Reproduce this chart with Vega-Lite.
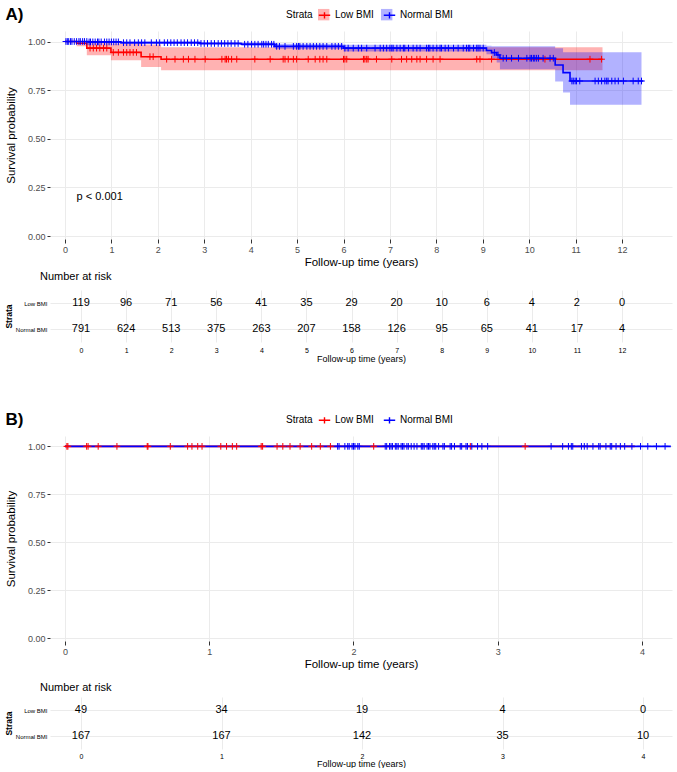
{
 "$schema": "https://vega.github.io/schema/vega-lite/v6.json",
 "background": "white",
 "padding": {"left": 4, "right": 0, "top": 5, "bottom": 0},
 "config": {
  "font": "Liberation Sans",
  "view": {"stroke": null},
  "axis": {"domain": false, "gridColor": "#ebebeb", "gridWidth": 1, "labelColor": "#4d4d4d", "tickColor": "#333333", "titleColor": "#000000", "titleFontWeight": "normal"},
  "title": {"color": "#000000"},
  "legend": {"labelColor": "#000000", "titleColor": "#000000"}
 },
 "datasets": {
  "bandA": [
   {"time": 0, "lower": 1.0, "upper": 1.0, "strata": "Low BMI"},
   {"time": 0.25, "lower": 0.975, "upper": 1.0, "strata": "Low BMI"},
   {"time": 0.47, "lower": 0.93, "upper": 1.0, "strata": "Low BMI"},
   {"time": 0.99, "lower": 0.904, "upper": 0.99, "strata": "Low BMI"},
   {"time": 1.64, "lower": 0.869, "upper": 0.985, "strata": "Low BMI"},
   {"time": 2.07, "lower": 0.852, "upper": 0.97, "strata": "Low BMI"},
   {"time": 11.58, "lower": 0.852, "upper": 0.97, "strata": "Low BMI"},
   {"time": 0, "lower": 1.0, "upper": 1.0, "strata": "Normal BMI"},
   {"time": 0.5, "lower": 0.994, "upper": 1.0, "strata": "Normal BMI"},
   {"time": 1.2, "lower": 0.988, "upper": 1.0, "strata": "Normal BMI"},
   {"time": 2.9, "lower": 0.982, "upper": 0.998, "strata": "Normal BMI"},
   {"time": 3.8, "lower": 0.977, "upper": 0.995, "strata": "Normal BMI"},
   {"time": 4.52, "lower": 0.963, "upper": 0.988, "strata": "Normal BMI"},
   {"time": 6.0, "lower": 0.949, "upper": 0.983, "strata": "Normal BMI"},
   {"time": 9.08, "lower": 0.935, "upper": 0.978, "strata": "Normal BMI"},
   {"time": 9.19, "lower": 0.915, "upper": 0.975, "strata": "Normal BMI"},
   {"time": 9.3, "lower": 0.892, "upper": 0.975, "strata": "Normal BMI"},
   {"time": 9.37, "lower": 0.858, "upper": 0.975, "strata": "Normal BMI"},
   {"time": 10.56, "lower": 0.795, "upper": 0.965, "strata": "Normal BMI"},
   {"time": 10.73, "lower": 0.738, "upper": 0.945, "strata": "Normal BMI"},
   {"time": 10.88, "lower": 0.675, "upper": 0.945, "strata": "Normal BMI"},
   {"time": 12.42, "lower": 0.675, "upper": 0.945, "strata": "Normal BMI"}
  ],
  "kmA": [
   {"time": 0, "surv": 1.0, "strata": "Low BMI"},
   {"time": 0.25, "surv": 0.991, "strata": "Low BMI"},
   {"time": 0.47, "surv": 0.966, "strata": "Low BMI"},
   {"time": 0.99, "surv": 0.944, "strata": "Low BMI"},
   {"time": 1.64, "surv": 0.922, "strata": "Low BMI"},
   {"time": 2.07, "surv": 0.909, "strata": "Low BMI"},
   {"time": 11.58, "surv": 0.909, "strata": "Low BMI"},
   {"time": 0, "surv": 1.0, "strata": "Normal BMI"},
   {"time": 0.5, "surv": 0.998, "strata": "Normal BMI"},
   {"time": 1.2, "surv": 0.994, "strata": "Normal BMI"},
   {"time": 2.9, "surv": 0.99, "strata": "Normal BMI"},
   {"time": 3.8, "surv": 0.986, "strata": "Normal BMI"},
   {"time": 4.52, "surv": 0.975, "strata": "Normal BMI"},
   {"time": 6.0, "surv": 0.966, "strata": "Normal BMI"},
   {"time": 9.08, "surv": 0.954, "strata": "Normal BMI"},
   {"time": 9.19, "surv": 0.943, "strata": "Normal BMI"},
   {"time": 9.3, "surv": 0.931, "strata": "Normal BMI"},
   {"time": 9.37, "surv": 0.914, "strata": "Normal BMI"},
   {"time": 10.56, "surv": 0.879, "strata": "Normal BMI"},
   {"time": 10.73, "surv": 0.84, "strata": "Normal BMI"},
   {"time": 10.88, "surv": 0.797, "strata": "Normal BMI"},
   {"time": 12.46, "surv": 0.797, "strata": "Normal BMI"}
  ],
  "censA": [
   {"time": 0.54, "surv": 0.966, "strata": "Low BMI"},
   {"time": 0.61, "surv": 0.966, "strata": "Low BMI"},
   {"time": 0.68, "surv": 0.966, "strata": "Low BMI"},
   {"time": 0.75, "surv": 0.966, "strata": "Low BMI"},
   {"time": 0.83, "surv": 0.966, "strata": "Low BMI"},
   {"time": 0.9, "surv": 0.966, "strata": "Low BMI"},
   {"time": 1.04, "surv": 0.944, "strata": "Low BMI"},
   {"time": 1.15, "surv": 0.944, "strata": "Low BMI"},
   {"time": 1.26, "surv": 0.944, "strata": "Low BMI"},
   {"time": 1.33, "surv": 0.944, "strata": "Low BMI"},
   {"time": 1.4, "surv": 0.944, "strata": "Low BMI"},
   {"time": 1.47, "surv": 0.944, "strata": "Low BMI"},
   {"time": 1.54, "surv": 0.944, "strata": "Low BMI"},
   {"time": 1.83, "surv": 0.922, "strata": "Low BMI"},
   {"time": 1.9, "surv": 0.922, "strata": "Low BMI"},
   {"time": 2.19, "surv": 0.909, "strata": "Low BMI"},
   {"time": 2.37, "surv": 0.909, "strata": "Low BMI"},
   {"time": 2.55, "surv": 0.909, "strata": "Low BMI"},
   {"time": 2.66, "surv": 0.909, "strata": "Low BMI"},
   {"time": 2.8, "surv": 0.909, "strata": "Low BMI"},
   {"time": 3.02, "surv": 0.909, "strata": "Low BMI"},
   {"time": 3.38, "surv": 0.909, "strata": "Low BMI"},
   {"time": 3.45, "surv": 0.909, "strata": "Low BMI"},
   {"time": 3.48, "surv": 0.909, "strata": "Low BMI"},
   {"time": 3.52, "surv": 0.909, "strata": "Low BMI"},
   {"time": 3.59, "surv": 0.909, "strata": "Low BMI"},
   {"time": 3.7, "surv": 0.909, "strata": "Low BMI"},
   {"time": 4.09, "surv": 0.909, "strata": "Low BMI"},
   {"time": 4.42, "surv": 0.909, "strata": "Low BMI"},
   {"time": 4.7, "surv": 0.909, "strata": "Low BMI"},
   {"time": 4.74, "surv": 0.909, "strata": "Low BMI"},
   {"time": 4.81, "surv": 0.909, "strata": "Low BMI"},
   {"time": 4.92, "surv": 0.909, "strata": "Low BMI"},
   {"time": 4.99, "surv": 0.909, "strata": "Low BMI"},
   {"time": 5.24, "surv": 0.909, "strata": "Low BMI"},
   {"time": 5.39, "surv": 0.909, "strata": "Low BMI"},
   {"time": 5.49, "surv": 0.909, "strata": "Low BMI"},
   {"time": 5.56, "surv": 0.909, "strata": "Low BMI"},
   {"time": 5.64, "surv": 0.909, "strata": "Low BMI"},
   {"time": 6.0, "surv": 0.909, "strata": "Low BMI"},
   {"time": 6.03, "surv": 0.909, "strata": "Low BMI"},
   {"time": 6.07, "surv": 0.909, "strata": "Low BMI"},
   {"time": 6.43, "surv": 0.909, "strata": "Low BMI"},
   {"time": 6.46, "surv": 0.909, "strata": "Low BMI"},
   {"time": 6.5, "surv": 0.909, "strata": "Low BMI"},
   {"time": 6.53, "surv": 0.909, "strata": "Low BMI"},
   {"time": 6.71, "surv": 0.909, "strata": "Low BMI"},
   {"time": 7.04, "surv": 0.909, "strata": "Low BMI"},
   {"time": 7.25, "surv": 0.909, "strata": "Low BMI"},
   {"time": 7.36, "surv": 0.909, "strata": "Low BMI"},
   {"time": 7.47, "surv": 0.909, "strata": "Low BMI"},
   {"time": 7.58, "surv": 0.909, "strata": "Low BMI"},
   {"time": 7.65, "surv": 0.909, "strata": "Low BMI"},
   {"time": 7.79, "surv": 0.909, "strata": "Low BMI"},
   {"time": 7.93, "surv": 0.909, "strata": "Low BMI"},
   {"time": 8.08, "surv": 0.909, "strata": "Low BMI"},
   {"time": 8.87, "surv": 0.909, "strata": "Low BMI"},
   {"time": 8.94, "surv": 0.909, "strata": "Low BMI"},
   {"time": 9.19, "surv": 0.909, "strata": "Low BMI"},
   {"time": 10.34, "surv": 0.909, "strata": "Low BMI"},
   {"time": 11.31, "surv": 0.909, "strata": "Low BMI"},
   {"time": 11.56, "surv": 0.909, "strata": "Low BMI"},
   {"time": 0.02, "surv": 1.0, "strata": "Normal BMI"},
   {"time": 0.05, "surv": 1.0, "strata": "Normal BMI"},
   {"time": 0.08, "surv": 1.0, "strata": "Normal BMI"},
   {"time": 0.12, "surv": 1.0, "strata": "Normal BMI"},
   {"time": 0.15, "surv": 1.0, "strata": "Normal BMI"},
   {"time": 0.2, "surv": 1.0, "strata": "Normal BMI"},
   {"time": 0.25, "surv": 1.0, "strata": "Normal BMI"},
   {"time": 0.3, "surv": 1.0, "strata": "Normal BMI"},
   {"time": 0.33, "surv": 1.0, "strata": "Normal BMI"},
   {"time": 0.38, "surv": 1.0, "strata": "Normal BMI"},
   {"time": 0.42, "surv": 1.0, "strata": "Normal BMI"},
   {"time": 0.47, "surv": 1.0, "strata": "Normal BMI"},
   {"time": 0.52, "surv": 0.998, "strata": "Normal BMI"},
   {"time": 0.55, "surv": 0.998, "strata": "Normal BMI"},
   {"time": 0.6, "surv": 0.998, "strata": "Normal BMI"},
   {"time": 0.65, "surv": 0.998, "strata": "Normal BMI"},
   {"time": 0.7, "surv": 0.998, "strata": "Normal BMI"},
   {"time": 0.73, "surv": 0.998, "strata": "Normal BMI"},
   {"time": 0.78, "surv": 0.998, "strata": "Normal BMI"},
   {"time": 0.85, "surv": 0.998, "strata": "Normal BMI"},
   {"time": 0.9, "surv": 0.998, "strata": "Normal BMI"},
   {"time": 0.95, "surv": 0.998, "strata": "Normal BMI"},
   {"time": 1.0, "surv": 0.998, "strata": "Normal BMI"},
   {"time": 1.05, "surv": 0.998, "strata": "Normal BMI"},
   {"time": 1.1, "surv": 0.998, "strata": "Normal BMI"},
   {"time": 1.15, "surv": 0.998, "strata": "Normal BMI"},
   {"time": 1.26, "surv": 0.994, "strata": "Normal BMI"},
   {"time": 1.33, "surv": 0.994, "strata": "Normal BMI"},
   {"time": 1.4, "surv": 0.994, "strata": "Normal BMI"},
   {"time": 1.5, "surv": 0.994, "strata": "Normal BMI"},
   {"time": 1.58, "surv": 0.994, "strata": "Normal BMI"},
   {"time": 1.65, "surv": 0.994, "strata": "Normal BMI"},
   {"time": 1.72, "surv": 0.994, "strata": "Normal BMI"},
   {"time": 1.86, "surv": 0.994, "strata": "Normal BMI"},
   {"time": 1.97, "surv": 0.994, "strata": "Normal BMI"},
   {"time": 2.04, "surv": 0.994, "strata": "Normal BMI"},
   {"time": 2.14, "surv": 0.994, "strata": "Normal BMI"},
   {"time": 2.21, "surv": 0.994, "strata": "Normal BMI"},
   {"time": 2.28, "surv": 0.994, "strata": "Normal BMI"},
   {"time": 2.35, "surv": 0.994, "strata": "Normal BMI"},
   {"time": 2.42, "surv": 0.994, "strata": "Normal BMI"},
   {"time": 2.5, "surv": 0.994, "strata": "Normal BMI"},
   {"time": 2.57, "surv": 0.994, "strata": "Normal BMI"},
   {"time": 2.64, "surv": 0.994, "strata": "Normal BMI"},
   {"time": 2.72, "surv": 0.994, "strata": "Normal BMI"},
   {"time": 2.79, "surv": 0.994, "strata": "Normal BMI"},
   {"time": 2.86, "surv": 0.994, "strata": "Normal BMI"},
   {"time": 2.93, "surv": 0.99, "strata": "Normal BMI"},
   {"time": 3.0, "surv": 0.99, "strata": "Normal BMI"},
   {"time": 3.07, "surv": 0.99, "strata": "Normal BMI"},
   {"time": 3.15, "surv": 0.99, "strata": "Normal BMI"},
   {"time": 3.22, "surv": 0.99, "strata": "Normal BMI"},
   {"time": 3.3, "surv": 0.99, "strata": "Normal BMI"},
   {"time": 3.37, "surv": 0.99, "strata": "Normal BMI"},
   {"time": 3.44, "surv": 0.99, "strata": "Normal BMI"},
   {"time": 3.51, "surv": 0.99, "strata": "Normal BMI"},
   {"time": 3.58, "surv": 0.99, "strata": "Normal BMI"},
   {"time": 3.66, "surv": 0.99, "strata": "Normal BMI"},
   {"time": 3.73, "surv": 0.99, "strata": "Normal BMI"},
   {"time": 3.87, "surv": 0.986, "strata": "Normal BMI"},
   {"time": 3.94, "surv": 0.986, "strata": "Normal BMI"},
   {"time": 4.02, "surv": 0.986, "strata": "Normal BMI"},
   {"time": 4.09, "surv": 0.986, "strata": "Normal BMI"},
   {"time": 4.16, "surv": 0.986, "strata": "Normal BMI"},
   {"time": 4.24, "surv": 0.986, "strata": "Normal BMI"},
   {"time": 4.28, "surv": 0.986, "strata": "Normal BMI"},
   {"time": 4.33, "surv": 0.986, "strata": "Normal BMI"},
   {"time": 4.38, "surv": 0.986, "strata": "Normal BMI"},
   {"time": 4.45, "surv": 0.986, "strata": "Normal BMI"},
   {"time": 4.5, "surv": 0.986, "strata": "Normal BMI"},
   {"time": 4.56, "surv": 0.975, "strata": "Normal BMI"},
   {"time": 4.62, "surv": 0.975, "strata": "Normal BMI"},
   {"time": 4.74, "surv": 0.975, "strata": "Normal BMI"},
   {"time": 4.92, "surv": 0.975, "strata": "Normal BMI"},
   {"time": 4.99, "surv": 0.975, "strata": "Normal BMI"},
   {"time": 5.03, "surv": 0.975, "strata": "Normal BMI"},
   {"time": 5.06, "surv": 0.975, "strata": "Normal BMI"},
   {"time": 5.13, "surv": 0.975, "strata": "Normal BMI"},
   {"time": 5.21, "surv": 0.975, "strata": "Normal BMI"},
   {"time": 5.28, "surv": 0.975, "strata": "Normal BMI"},
   {"time": 5.35, "surv": 0.975, "strata": "Normal BMI"},
   {"time": 5.42, "surv": 0.975, "strata": "Normal BMI"},
   {"time": 5.49, "surv": 0.975, "strata": "Normal BMI"},
   {"time": 5.56, "surv": 0.975, "strata": "Normal BMI"},
   {"time": 5.64, "surv": 0.975, "strata": "Normal BMI"},
   {"time": 5.75, "surv": 0.975, "strata": "Normal BMI"},
   {"time": 5.82, "surv": 0.975, "strata": "Normal BMI"},
   {"time": 5.89, "surv": 0.975, "strata": "Normal BMI"},
   {"time": 5.96, "surv": 0.975, "strata": "Normal BMI"},
   {"time": 6.03, "surv": 0.966, "strata": "Normal BMI"},
   {"time": 6.1, "surv": 0.966, "strata": "Normal BMI"},
   {"time": 6.21, "surv": 0.966, "strata": "Normal BMI"},
   {"time": 6.32, "surv": 0.966, "strata": "Normal BMI"},
   {"time": 6.39, "surv": 0.966, "strata": "Normal BMI"},
   {"time": 6.5, "surv": 0.966, "strata": "Normal BMI"},
   {"time": 6.68, "surv": 0.966, "strata": "Normal BMI"},
   {"time": 6.79, "surv": 0.966, "strata": "Normal BMI"},
   {"time": 6.86, "surv": 0.966, "strata": "Normal BMI"},
   {"time": 6.93, "surv": 0.966, "strata": "Normal BMI"},
   {"time": 7.0, "surv": 0.966, "strata": "Normal BMI"},
   {"time": 7.04, "surv": 0.966, "strata": "Normal BMI"},
   {"time": 7.07, "surv": 0.966, "strata": "Normal BMI"},
   {"time": 7.15, "surv": 0.966, "strata": "Normal BMI"},
   {"time": 7.22, "surv": 0.966, "strata": "Normal BMI"},
   {"time": 7.29, "surv": 0.966, "strata": "Normal BMI"},
   {"time": 7.32, "surv": 0.966, "strata": "Normal BMI"},
   {"time": 7.4, "surv": 0.966, "strata": "Normal BMI"},
   {"time": 7.5, "surv": 0.966, "strata": "Normal BMI"},
   {"time": 7.58, "surv": 0.966, "strata": "Normal BMI"},
   {"time": 7.65, "surv": 0.966, "strata": "Normal BMI"},
   {"time": 7.79, "surv": 0.966, "strata": "Normal BMI"},
   {"time": 7.83, "surv": 0.966, "strata": "Normal BMI"},
   {"time": 7.86, "surv": 0.966, "strata": "Normal BMI"},
   {"time": 7.93, "surv": 0.966, "strata": "Normal BMI"},
   {"time": 8.01, "surv": 0.966, "strata": "Normal BMI"},
   {"time": 8.08, "surv": 0.966, "strata": "Normal BMI"},
   {"time": 8.11, "surv": 0.966, "strata": "Normal BMI"},
   {"time": 8.19, "surv": 0.966, "strata": "Normal BMI"},
   {"time": 8.26, "surv": 0.966, "strata": "Normal BMI"},
   {"time": 8.37, "surv": 0.966, "strata": "Normal BMI"},
   {"time": 8.47, "surv": 0.966, "strata": "Normal BMI"},
   {"time": 8.58, "surv": 0.966, "strata": "Normal BMI"},
   {"time": 8.65, "surv": 0.966, "strata": "Normal BMI"},
   {"time": 8.69, "surv": 0.966, "strata": "Normal BMI"},
   {"time": 8.72, "surv": 0.966, "strata": "Normal BMI"},
   {"time": 8.8, "surv": 0.966, "strata": "Normal BMI"},
   {"time": 8.87, "surv": 0.966, "strata": "Normal BMI"},
   {"time": 8.9, "surv": 0.966, "strata": "Normal BMI"},
   {"time": 8.94, "surv": 0.966, "strata": "Normal BMI"},
   {"time": 9.01, "surv": 0.966, "strata": "Normal BMI"},
   {"time": 9.25, "surv": 0.943, "strata": "Normal BMI"},
   {"time": 9.33, "surv": 0.931, "strata": "Normal BMI"},
   {"time": 9.44, "surv": 0.914, "strata": "Normal BMI"},
   {"time": 9.51, "surv": 0.914, "strata": "Normal BMI"},
   {"time": 9.62, "surv": 0.914, "strata": "Normal BMI"},
   {"time": 9.77, "surv": 0.914, "strata": "Normal BMI"},
   {"time": 9.95, "surv": 0.914, "strata": "Normal BMI"},
   {"time": 10.02, "surv": 0.914, "strata": "Normal BMI"},
   {"time": 10.05, "surv": 0.914, "strata": "Normal BMI"},
   {"time": 10.09, "surv": 0.914, "strata": "Normal BMI"},
   {"time": 10.12, "surv": 0.914, "strata": "Normal BMI"},
   {"time": 10.16, "surv": 0.914, "strata": "Normal BMI"},
   {"time": 10.2, "surv": 0.914, "strata": "Normal BMI"},
   {"time": 10.3, "surv": 0.914, "strata": "Normal BMI"},
   {"time": 10.45, "surv": 0.914, "strata": "Normal BMI"},
   {"time": 10.52, "surv": 0.914, "strata": "Normal BMI"},
   {"time": 10.92, "surv": 0.797, "strata": "Normal BMI"},
   {"time": 10.95, "surv": 0.797, "strata": "Normal BMI"},
   {"time": 10.99, "surv": 0.797, "strata": "Normal BMI"},
   {"time": 11.02, "surv": 0.797, "strata": "Normal BMI"},
   {"time": 11.09, "surv": 0.797, "strata": "Normal BMI"},
   {"time": 11.42, "surv": 0.797, "strata": "Normal BMI"},
   {"time": 11.49, "surv": 0.797, "strata": "Normal BMI"},
   {"time": 11.56, "surv": 0.797, "strata": "Normal BMI"},
   {"time": 11.63, "surv": 0.797, "strata": "Normal BMI"},
   {"time": 11.67, "surv": 0.797, "strata": "Normal BMI"},
   {"time": 11.7, "surv": 0.797, "strata": "Normal BMI"},
   {"time": 11.78, "surv": 0.797, "strata": "Normal BMI"},
   {"time": 11.85, "surv": 0.797, "strata": "Normal BMI"},
   {"time": 11.92, "surv": 0.797, "strata": "Normal BMI"},
   {"time": 12.03, "surv": 0.797, "strata": "Normal BMI"},
   {"time": 12.24, "surv": 0.797, "strata": "Normal BMI"},
   {"time": 12.35, "surv": 0.797, "strata": "Normal BMI"},
   {"time": 12.42, "surv": 0.797, "strata": "Normal BMI"}
  ],
  "pA": [{"time": 0.25, "surv": 0.2, "label": "p < 0.001"}],
  "riskA": [
   {"time": 0, "n": 119, "strata": "Low BMI"}, {"time": 1, "n": 96, "strata": "Low BMI"}, {"time": 2, "n": 71, "strata": "Low BMI"}, {"time": 3, "n": 56, "strata": "Low BMI"}, {"time": 4, "n": 41, "strata": "Low BMI"}, {"time": 5, "n": 35, "strata": "Low BMI"}, {"time": 6, "n": 29, "strata": "Low BMI"}, {"time": 7, "n": 20, "strata": "Low BMI"}, {"time": 8, "n": 10, "strata": "Low BMI"}, {"time": 9, "n": 6, "strata": "Low BMI"}, {"time": 10, "n": 4, "strata": "Low BMI"}, {"time": 11, "n": 2, "strata": "Low BMI"}, {"time": 12, "n": 0, "strata": "Low BMI"},
   {"time": 0, "n": 791, "strata": "Normal BMI"}, {"time": 1, "n": 624, "strata": "Normal BMI"}, {"time": 2, "n": 513, "strata": "Normal BMI"}, {"time": 3, "n": 375, "strata": "Normal BMI"}, {"time": 4, "n": 263, "strata": "Normal BMI"}, {"time": 5, "n": 207, "strata": "Normal BMI"}, {"time": 6, "n": 158, "strata": "Normal BMI"}, {"time": 7, "n": 126, "strata": "Normal BMI"}, {"time": 8, "n": 95, "strata": "Normal BMI"}, {"time": 9, "n": 65, "strata": "Normal BMI"}, {"time": 10, "n": 41, "strata": "Normal BMI"}, {"time": 11, "n": 17, "strata": "Normal BMI"}, {"time": 12, "n": 4, "strata": "Normal BMI"}
  ],
  "kmB": [
   {"time": 0, "surv": 1.0, "strata": "Low BMI"},
   {"time": 3.95, "surv": 1.0, "strata": "Low BMI"},
   {"time": 0, "surv": 1.0, "strata": "Normal BMI"},
   {"time": 4.2, "surv": 1.0, "strata": "Normal BMI"}
  ],
  "censB": [
   {"time": 0.013, "surv": 1, "strata": "Low BMI"}, {"time": 0.02, "surv": 1, "strata": "Low BMI"}, {"time": 0.15, "surv": 1, "strata": "Low BMI"}, {"time": 0.16, "surv": 1, "strata": "Low BMI"}, {"time": 0.23, "surv": 1, "strata": "Low BMI"}, {"time": 0.36, "surv": 1, "strata": "Low BMI"}, {"time": 0.57, "surv": 1, "strata": "Low BMI"}, {"time": 0.575, "surv": 1, "strata": "Low BMI"}, {"time": 0.73, "surv": 1, "strata": "Low BMI"}, {"time": 0.85, "surv": 1, "strata": "Low BMI"}, {"time": 0.88, "surv": 1, "strata": "Low BMI"}, {"time": 0.92, "surv": 1, "strata": "Low BMI"}, {"time": 0.95, "surv": 1, "strata": "Low BMI"}, {"time": 1.08, "surv": 1, "strata": "Low BMI"}, {"time": 1.12, "surv": 1, "strata": "Low BMI"}, {"time": 1.16, "surv": 1, "strata": "Low BMI"}, {"time": 1.19, "surv": 1, "strata": "Low BMI"}, {"time": 1.36, "surv": 1, "strata": "Low BMI"}, {"time": 1.37, "surv": 1, "strata": "Low BMI"}, {"time": 1.47, "surv": 1, "strata": "Low BMI"}, {"time": 1.51, "surv": 1, "strata": "Low BMI"}, {"time": 1.56, "surv": 1, "strata": "Low BMI"}, {"time": 1.63, "surv": 1, "strata": "Low BMI"}, {"time": 1.71, "surv": 1, "strata": "Low BMI"}, {"time": 1.77, "surv": 1, "strata": "Low BMI"}, {"time": 1.84, "surv": 1, "strata": "Low BMI"}, {"time": 2.14, "surv": 1, "strata": "Low BMI"}, {"time": 2.81, "surv": 1, "strata": "Low BMI"}, {"time": 3.19, "surv": 1, "strata": "Low BMI"},
   {"time": 1.89, "surv": 1, "strata": "Normal BMI"}, {"time": 1.9, "surv": 1, "strata": "Normal BMI"}, {"time": 1.94, "surv": 1, "strata": "Normal BMI"}, {"time": 1.96, "surv": 1, "strata": "Normal BMI"}, {"time": 1.97, "surv": 1, "strata": "Normal BMI"}, {"time": 1.99, "surv": 1, "strata": "Normal BMI"}, {"time": 2.0, "surv": 1, "strata": "Normal BMI"}, {"time": 2.01, "surv": 1, "strata": "Normal BMI"}, {"time": 2.03, "surv": 1, "strata": "Normal BMI"}, {"time": 2.04, "surv": 1, "strata": "Normal BMI"},
   {"time": 2.22, "surv": 1, "strata": "Normal BMI"}, {"time": 2.23, "surv": 1, "strata": "Normal BMI"}, {"time": 2.25, "surv": 1, "strata": "Normal BMI"}, {"time": 2.26, "surv": 1, "strata": "Normal BMI"}, {"time": 2.27, "surv": 1, "strata": "Normal BMI"}, {"time": 2.29, "surv": 1, "strata": "Normal BMI"}, {"time": 2.3, "surv": 1, "strata": "Normal BMI"}, {"time": 2.31, "surv": 1, "strata": "Normal BMI"}, {"time": 2.33, "surv": 1, "strata": "Normal BMI"}, {"time": 2.34, "surv": 1, "strata": "Normal BMI"}, {"time": 2.35, "surv": 1, "strata": "Normal BMI"}, {"time": 2.37, "surv": 1, "strata": "Normal BMI"}, {"time": 2.38, "surv": 1, "strata": "Normal BMI"}, {"time": 2.4, "surv": 1, "strata": "Normal BMI"}, {"time": 2.42, "surv": 1, "strata": "Normal BMI"}, {"time": 2.44, "surv": 1, "strata": "Normal BMI"}, {"time": 2.47, "surv": 1, "strata": "Normal BMI"}, {"time": 2.48, "surv": 1, "strata": "Normal BMI"}, {"time": 2.49, "surv": 1, "strata": "Normal BMI"}, {"time": 2.51, "surv": 1, "strata": "Normal BMI"}, {"time": 2.52, "surv": 1, "strata": "Normal BMI"}, {"time": 2.53, "surv": 1, "strata": "Normal BMI"}, {"time": 2.55, "surv": 1, "strata": "Normal BMI"}, {"time": 2.56, "surv": 1, "strata": "Normal BMI"}, {"time": 2.57, "surv": 1, "strata": "Normal BMI"}, {"time": 2.59, "surv": 1, "strata": "Normal BMI"}, {"time": 2.62, "surv": 1, "strata": "Normal BMI"}, {"time": 2.63, "surv": 1, "strata": "Normal BMI"}, {"time": 2.67, "surv": 1, "strata": "Normal BMI"}, {"time": 2.68, "surv": 1, "strata": "Normal BMI"}, {"time": 2.7, "surv": 1, "strata": "Normal BMI"}, {"time": 2.74, "surv": 1, "strata": "Normal BMI"}, {"time": 2.75, "surv": 1, "strata": "Normal BMI"}, {"time": 2.78, "surv": 1, "strata": "Normal BMI"}, {"time": 2.79, "surv": 1, "strata": "Normal BMI"}, {"time": 2.82, "surv": 1, "strata": "Normal BMI"}, {"time": 2.86, "surv": 1, "strata": "Normal BMI"}, {"time": 2.89, "surv": 1, "strata": "Normal BMI"}, {"time": 2.93, "surv": 1, "strata": "Normal BMI"},
   {"time": 3.37, "surv": 1, "strata": "Normal BMI"}, {"time": 3.45, "surv": 1, "strata": "Normal BMI"}, {"time": 3.49, "surv": 1, "strata": "Normal BMI"}, {"time": 3.51, "surv": 1, "strata": "Normal BMI"}, {"time": 3.52, "surv": 1, "strata": "Normal BMI"}, {"time": 3.58, "surv": 1, "strata": "Normal BMI"}, {"time": 3.6, "surv": 1, "strata": "Normal BMI"}, {"time": 3.62, "surv": 1, "strata": "Normal BMI"}, {"time": 3.66, "surv": 1, "strata": "Normal BMI"}, {"time": 3.7, "surv": 1, "strata": "Normal BMI"}, {"time": 3.71, "surv": 1, "strata": "Normal BMI"}, {"time": 3.75, "surv": 1, "strata": "Normal BMI"}, {"time": 3.78, "surv": 1, "strata": "Normal BMI"}, {"time": 3.79, "surv": 1, "strata": "Normal BMI"}, {"time": 3.82, "surv": 1, "strata": "Normal BMI"}, {"time": 3.85, "surv": 1, "strata": "Normal BMI"}, {"time": 3.88, "surv": 1, "strata": "Normal BMI"}, {"time": 3.93, "surv": 1, "strata": "Normal BMI"}, {"time": 3.99, "surv": 1, "strata": "Normal BMI"}, {"time": 4.04, "surv": 1, "strata": "Normal BMI"}, {"time": 4.1, "surv": 1, "strata": "Normal BMI"}, {"time": 4.16, "surv": 1, "strata": "Normal BMI"}
  ],
  "riskB": [
   {"time": 0, "n": 49, "strata": "Low BMI"}, {"time": 1, "n": 34, "strata": "Low BMI"}, {"time": 2, "n": 19, "strata": "Low BMI"}, {"time": 3, "n": 4, "strata": "Low BMI"}, {"time": 4, "n": 0, "strata": "Low BMI"},
   {"time": 0, "n": 167, "strata": "Normal BMI"}, {"time": 1, "n": 167, "strata": "Normal BMI"}, {"time": 2, "n": 142, "strata": "Normal BMI"}, {"time": 3, "n": 35, "strata": "Normal BMI"}, {"time": 4, "n": 10, "strata": "Normal BMI"}
  ]
 },
 "resolve": {"scale": {"fill": "independent", "stroke": "independent"}, "legend": {"fill": "independent", "stroke": "independent"}},
 "spacing": 47,
 "vconcat": [
  {
   "spacing": 3,
   "resolve": {"scale": {"fill": "independent", "stroke": "independent"}, "legend": {"fill": "independent", "stroke": "independent"}},
   "vconcat": [
    {
     "width": 622, "height": 208,
     "title": {"text": "A)", "anchor": "start", "frame": "bounds", "fontSize": 17, "fontWeight": "bold", "offset": 4, "dy": 19},
     "layer": [
      {
       "data": {"name": "bandA"},
       "mark": {"type": "area", "interpolate": "step-after", "fillOpacity": 0.3},
       "encoding": {
        "x": {"field": "time", "type": "quantitative", "scale": {"domain": [-0.323, 13.077], "nice": false, "zero": false},
              "axis": {"values": [0,1,2,3,4,5,6,7,8,9,10,11,12], "format": "d", "title": "Follow-up time (years)", "titleFontSize": 11.5, "labelFontSize": 9, "tickSize": 4, "labelPadding": 2, "titlePadding": 2}},
        "y": {"field": "lower", "type": "quantitative", "scale": {"domain": [-0.015, 1.054], "nice": false, "zero": false},
              "axis": {"values": [0, 0.25, 0.5, 0.75, 1], "format": ".2f", "title": "Survival probability", "titleFontSize": 11.5, "labelFontSize": 9, "tickSize": 3, "labelPadding": 2, "titlePadding": 11}},
        "y2": {"field": "upper"},
        "fill": {"field": "strata", "type": "nominal", "scale": {"domain": ["Low BMI", "Normal BMI"], "range": ["#ff0000", "#0000ff"]},
                 "legend": {"title": null, "orient": "none", "legendX": 267.7, "legendY": -22.5, "direction": "horizontal", "labelFontSize": 10, "labelExpr": "''", "symbolType": "square", "symbolSize": 130, "symbolStrokeWidth": 0, "columnPadding": 6, "labelOffset": 44.5,
                            "encode": {"symbols": {"update": {"fillOpacity": {"value": 0.3}, "strokeOpacity": {"value": 0}}}}}}
       }
      },
      {
       "data": {"name": "kmA"},
       "mark": {"type": "line", "interpolate": "step-after", "strokeWidth": 1.6},
       "encoding": {
        "x": {"field": "time", "type": "quantitative"},
        "y": {"field": "surv", "type": "quantitative"},
        "stroke": {"field": "strata", "type": "nominal", "scale": {"range": ["#ff0000", "#0000ff"]},
                   "legend": {"title": "Strata", "orient": "none", "legendX": 236, "legendY": -22.5, "direction": "horizontal", "titleOrient": "left", "titleFontSize": 10, "titleFontWeight": "normal", "titlePadding": 5, "labelFontSize": 10, "symbolType": "M-1,0H1 M0,-0.55V0.55", "symbolSize": 130, "symbolStrokeWidth": 1.4, "columnPadding": 6, "labelOffset": 4,
                              "encode": {"symbols": {"update": {"fillOpacity": {"value": 0}, "strokeOpacity": {"value": 1}}}}}}
       }
      },
      {
       "data": {"name": "censA"},
       "mark": {"type": "point", "shape": "M0,-1V1M-1,0H1", "filled": false, "size": 45, "strokeWidth": 1, "opacity": 1},
       "encoding": {
        "x": {"field": "time", "type": "quantitative"},
        "y": {"field": "surv", "type": "quantitative"},
        "stroke": {"field": "strata", "type": "nominal"}
       }
      },
      {
       "data": {"name": "pA"},
       "mark": {"type": "text", "align": "left", "baseline": "middle", "fontSize": 11, "color": "#000000"},
       "encoding": {
        "x": {"field": "time", "type": "quantitative"},
        "y": {"field": "surv", "type": "quantitative"},
        "text": {"field": "label", "type": "nominal"}
       }
      }
     ]
    },
    {
     "width": 622, "height": 52,
     "title": {"text": "Number at risk", "anchor": "start", "frame": "group", "fontSize": 11, "fontWeight": "normal", "dx": -10, "offset": 8},
     "data": {"name": "riskA"},
     "mark": {"type": "text", "fontSize": 11, "color": "#000000"},
     "encoding": {
      "x": {"field": "time", "type": "quantitative", "scale": {"domain": [-0.688, 13.109], "nice": false, "zero": false},
            "axis": {"values": [0,1,2,3,4,5,6,7,8,9,10,11,12], "format": "d", "ticks": false, "labelFontSize": 7, "labelColor": "#000000", "labelPadding": 4, "title": "Follow-up time (years)", "titleFontSize": 9, "titlePadding": 1}},
      "y": {"field": "strata", "type": "nominal", "sort": ["Low BMI", "Normal BMI"], "scale": {"type": "point", "padding": 0.5},
            "axis": {"title": "Strata", "titleFontSize": 8.5, "titleFontWeight": "bold", "labelFontSize": 6, "labelColor": "#000000", "ticks": false, "grid": true, "labelPadding": 3, "titlePadding": 2}},
      "text": {"field": "n", "type": "quantitative"}
     }
    }
   ]
  },
  {
   "spacing": 12,
   "resolve": {"scale": {"fill": "independent", "stroke": "independent"}, "legend": {"fill": "independent", "stroke": "independent"}},
   "vconcat": [
    {
     "width": 622, "height": 205,
     "title": {"text": "B)", "anchor": "start", "frame": "bounds", "fontSize": 17, "fontWeight": "bold", "offset": 4, "dy": 19},
     "layer": [
      {
       "data": {"name": "kmB"},
       "mark": {"type": "line", "interpolate": "step-after", "strokeWidth": 1.6},
       "encoding": {
        "x": {"field": "time", "type": "quantitative", "scale": {"domain": [-0.104, 4.208], "nice": false, "zero": false},
              "axis": {"values": [0,1,2,3,4], "format": "d", "title": "Follow-up time (years)", "titleFontSize": 11.5, "labelFontSize": 9, "tickSize": 4, "labelPadding": 2, "titlePadding": 2}},
        "y": {"field": "surv", "type": "quantitative", "scale": {"domain": [-0.015, 1.054], "nice": false, "zero": false},
              "axis": {"values": [0, 0.25, 0.5, 0.75, 1], "format": ".2f", "title": "Survival probability", "titleFontSize": 11.5, "labelFontSize": 9, "tickSize": 3, "labelPadding": 2, "titlePadding": 11}},
        "stroke": {"field": "strata", "type": "nominal", "scale": {"domain": ["Low BMI", "Normal BMI"], "range": ["#ff0000", "#0000ff"]},
                   "legend": {"title": "Strata", "orient": "none", "legendX": 236, "legendY": -22.5, "direction": "horizontal", "titleOrient": "left", "titleFontSize": 10, "titleFontWeight": "normal", "titlePadding": 5, "labelFontSize": 10, "symbolType": "M-1,0H1 M0,-0.55V0.55", "symbolSize": 130, "symbolStrokeWidth": 1.4, "columnPadding": 6, "labelOffset": 4}}
       }
      },
      {
       "data": {"name": "censB"},
       "mark": {"type": "point", "shape": "M0,-1V1M-1,0H1", "filled": false, "size": 45, "strokeWidth": 1, "opacity": 1},
       "encoding": {
        "x": {"field": "time", "type": "quantitative"},
        "y": {"field": "surv", "type": "quantitative"},
        "stroke": {"field": "strata", "type": "nominal"}
       }
      }
     ]
    },
    {
     "width": 622, "height": 52,
     "title": {"text": "Number at risk", "anchor": "start", "frame": "group", "fontSize": 11, "fontWeight": "normal", "dx": -10, "offset": 4},
     "data": {"name": "riskB"},
     "mark": {"type": "text", "fontSize": 11, "color": "#000000"},
     "encoding": {
      "x": {"field": "time", "type": "quantitative", "scale": {"domain": [-0.2206, 4.206], "nice": false, "zero": false},
            "axis": {"values": [0,1,2,3,4], "format": "d", "ticks": false, "labelFontSize": 7, "labelColor": "#000000", "labelPadding": 3, "title": "Follow-up time (years)", "titleFontSize": 9, "titlePadding": 0}},
      "y": {"field": "strata", "type": "nominal", "sort": ["Low BMI", "Normal BMI"], "scale": {"type": "point", "padding": 0.5},
            "axis": {"title": "Strata", "titleFontSize": 8.5, "titleFontWeight": "bold", "labelFontSize": 6, "labelColor": "#000000", "ticks": false, "grid": true, "labelPadding": 3, "titlePadding": 2}},
      "text": {"field": "n", "type": "quantitative"}
     }
    }
   ]
  }
 ]
}
